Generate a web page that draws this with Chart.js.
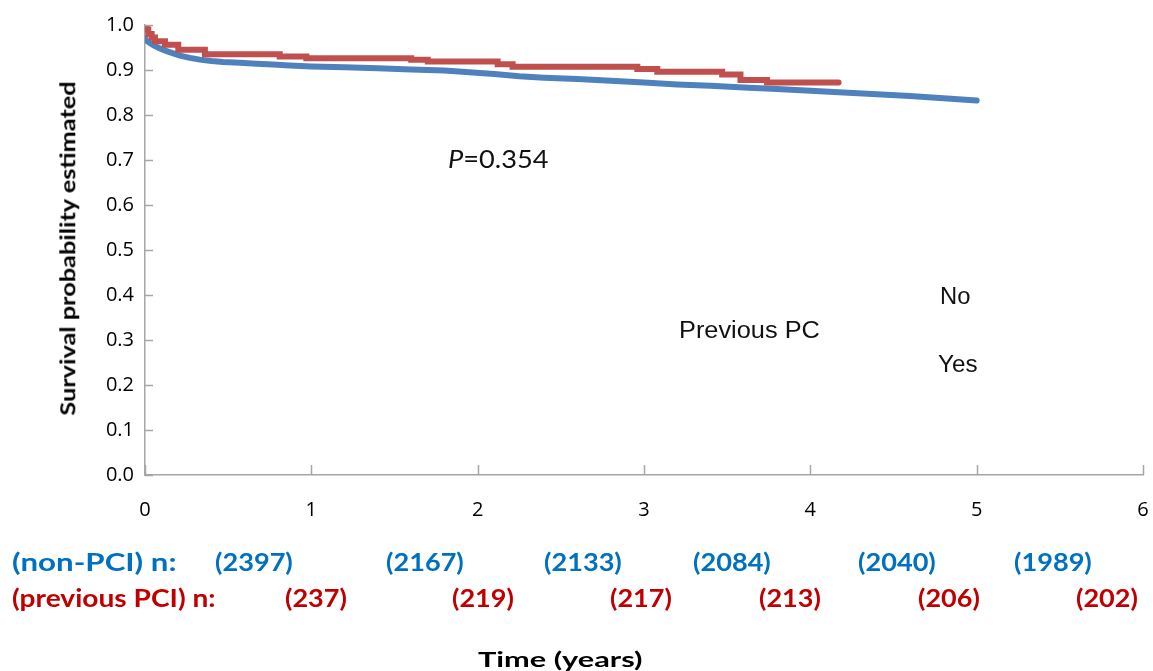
<!DOCTYPE html>
<html>
<head>
<meta charset="utf-8">
<script src="https://cdn.jsdelivr.net/npm/chart.js@4.4.1/dist/chart.umd.min.js"></script>
<style>
  body { margin: 0; background: #fff; }
  #wrap { position: relative; width: 1153px; height: 671px; overflow: hidden; }
  #km { position: absolute; left: 0; top: 0; }
  .lbl { position: absolute; white-space: nowrap; line-height: 1; transform-origin: 0 50%; }
  .nrow { font-family: Lato, sans-serif; font-weight: bold; font-size: 24px; }
  .blue { color: #0070C0; }
  .red { color: #C00000; }
  .note { font-family: "Liberation Sans", Arial, sans-serif; font-size: 23px; color: #111; }
</style>
</head>
<body>
<div id="wrap">
  <canvas id="km" width="1153" height="671"></canvas>
</div>
<script>
// survival curves, time in years
const noTime = [0, 0.01, 0.03, 0.05, 0.09, 0.13, 0.17, 0.21, 0.27, 0.33, 0.40, 0.47, 0.57, 0.67, 0.77, 0.87,
  1.0, 1.2, 1.4, 1.6, 1.8, 1.95, 2.1, 2.25, 2.4, 2.6, 2.8, 3.0, 3.2, 3.4, 3.6, 3.8, 4.0, 4.2, 4.4, 4.6, 4.8, 5.0];
const noSurv = [0.970, 0.965, 0.960, 0.955, 0.948, 0.942, 0.937, 0.932, 0.927, 0.923, 0.920, 0.918, 0.916, 0.914, 0.912, 0.910,
  0.908, 0.906, 0.904, 0.901, 0.899, 0.895, 0.891, 0.886, 0.883, 0.880, 0.876, 0.872, 0.868, 0.865, 0.861, 0.858, 0.854, 0.850, 0.846, 0.842, 0.837, 0.832];

const yesTime = [0, 0.01, 0.02, 0.04, 0.06, 0.12, 0.2, 0.36, 0.81, 0.97, 1.6, 1.7, 2.12, 2.21, 2.96, 3.08, 3.47, 3.58, 3.74, 4.17];
const yesSurv = [1.0, 0.990, 0.980, 0.972, 0.964, 0.956, 0.945, 0.935, 0.930, 0.926, 0.923, 0.919, 0.913, 0.907, 0.902, 0.896, 0.890, 0.878, 0.872, 0.872];

const xTicks = [0, 1, 2, 3, 4, 5, 6];
const yTicks = [0, 0.1, 0.2, 0.3, 0.4, 0.5, 0.6, 0.7, 0.8, 0.9, 1.0];

// numbers at risk
const nonPciN = [2397, 2167, 2133, 2084, 2040, 1989];
const prevPciN = [237, 219, 217, 213, 206, 202];

// layout of the at-risk rows (pixel centres)
const nonPciPos = [254, 425, 583, 732, 897, 1053];
const prevPciPos = [316, 483, 641, 790, 949, 1107];

const wrap = document.getElementById('wrap');

// place a label and stretch it horizontally to the width it has in the figure
function addLabel(text, cls, left, top, width, extra) {
  const d = document.createElement('div');
  d.className = 'lbl ' + cls;
  if (text.indexOf('<') >= 0) d.innerHTML = text; else d.textContent = text;
  d.style.left = left + 'px';
  d.style.top = top + 'px';
  if (extra) Object.assign(d.style, extra);
  wrap.appendChild(d);
  const w = d.offsetWidth;
  if (width && w) d.style.transform = 'scaleX(' + (width / w).toFixed(3) + ')';
  return d;
}

function build() {
  addLabel('(non-PCI) n:', 'nrow blue', 12, 550, 164);
  addLabel('(previous PCI) n:', 'nrow red', 12, 586, 204);
  nonPciN.forEach((n, i) => addLabel('(' + n + ')', 'nrow blue', nonPciPos[i] - 39, 550, 78));
  prevPciN.forEach((n, i) => addLabel('(' + n + ')', 'nrow red', prevPciPos[i] - 31, 586, 62));

  addLabel('Time (years)', 'nrow', 478, 648, 164, { fontSize: '21px', color: '#000' });

  // rotated axis title
  const yt = document.createElement('div');
  yt.className = 'lbl nrow';
  yt.textContent = 'Survival probability estimated';
  Object.assign(yt.style, { fontSize: '21px', color: '#000', left: '0px', top: '0px' });
  wrap.appendChild(yt);
  const yw = yt.offsetWidth, yh = yt.offsetHeight;
  yt.style.transformOrigin = '50% 50%';
  yt.style.left = (67 - yw / 2) + 'px';
  yt.style.top = (248 - yh / 2) + 'px';
  yt.style.transform = 'rotate(-90deg) scaleX(' + (335 / yw).toFixed(3) + ')';

  addLabel('<i>P</i>=0.354', 'note', 448, 146, 100, { fontFamily: 'Lato, sans-serif', fontSize: '25px' });
  addLabel('Previous PC', 'note', 679, 319, 141);
  addLabel('No', 'note', 940, 285, 30);
  addLabel('Yes', 'note', 938, 353, 40);

  // inward tick marks drawn from the scales
  const innerTicks = {
    id: 'innerTicks',
    afterDatasetsDraw(chart) {
      const ctx = chart.ctx;
      const x = chart.scales.x, y = chart.scales.y;
      ctx.save();
      ctx.strokeStyle = '#a6a6a6';
      ctx.lineWidth = 1.5;
      ctx.beginPath();
      yTicks.forEach(v => {
        const py = Math.round(y.getPixelForValue(v)) + 0.5;
        ctx.moveTo(x.left, py);
        ctx.lineTo(x.left + 8, py);
      });
      xTicks.forEach(v => {
        const px = Math.round(x.getPixelForValue(v)) + 0.5;
        ctx.moveTo(px, y.bottom);
        ctx.lineTo(px, y.bottom - 10);
      });
      ctx.stroke();
      ctx.restore();
    }
  };

  new Chart(document.getElementById('km'), {
    type: 'line',
    data: {
      datasets: [
        {
          label: 'Yes',
          data: yesTime.map((t, i) => ({ x: t, y: yesSurv[i] })),
          borderColor: '#C0504D',
          borderWidth: 6,
          stepped: true,
          pointRadius: 0,
          borderCapStyle: 'round'
        },
        {
          label: 'No',
          data: noTime.map((t, i) => ({ x: t, y: noSurv[i] })),
          borderColor: '#4F81BD',
          borderWidth: 6,
          pointRadius: 0,
          tension: 0,
          borderCapStyle: 'round'
        }
      ]
    },
    options: {
      responsive: false,
      animation: false,
      events: [],
      layout: { padding: { top: 25, right: 10, left: 0, bottom: 0 } },
      plugins: { legend: { display: false }, tooltip: { enabled: false } },
      scales: {
        x: {
          type: 'linear',
          min: 0,
          max: 6,
          afterFit: s => { s.height = 196; s.paddingLeft = 5; s.paddingRight = 5; },
          afterBuildTicks: s => { s.ticks = xTicks.map(v => ({ value: v })); },
          grid: { display: false, drawTicks: false },
          border: { color: '#a6a6a6', width: 1.5 },
          ticks: { padding: 23, color: '#000', font: { family: 'Open Sans', size: 20 } }
        },
        y: {
          min: 0,
          max: 1,
          afterFit: s => { s.width = 145; },
          afterBuildTicks: s => { s.ticks = yTicks.map(v => ({ value: v })); },
          grid: { display: false, drawTicks: false },
          border: { color: '#a6a6a6', width: 1.5 },
          ticks: {
            padding: 11,
            color: '#000',
            font: { family: 'Open Sans', size: 20 },
            callback: v => v.toFixed(1)
          }
        }
      }
    },
    plugins: [innerTicks]
  });
}

Promise.all([
  document.fonts.load('20px "Open Sans"'),
  document.fonts.load('bold 24px Lato'),
  document.fonts.load('24px Lato'),
  document.fonts.load('italic 24px Lato'),
  document.fonts.load('23px "Liberation Sans"')
]).catch(() => {}).then(build);
</script>
</body>
</html>
